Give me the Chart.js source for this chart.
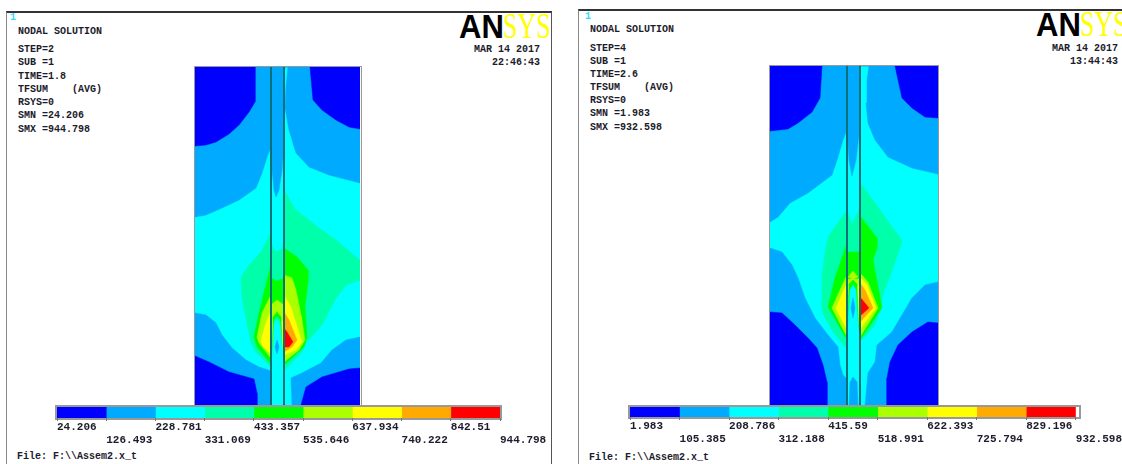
<!DOCTYPE html>
<html>
<head>
<meta charset="utf-8">
<script src="https://cdn.jsdelivr.net/npm/chart.js@4"></script>
<style>
  html, body { margin: 0; padding: 0; background: #fff; }
  body { width: 1122px; height: 464px; overflow: hidden; position: relative; }
  #page { position: absolute; left: 0; top: 0; width: 1122px; height: 464px; overflow: hidden; background: #fff; filter: blur(0.7px); }
  canvas, .frame, .note, .logo { position: absolute; }
  .frame { box-sizing: border-box; }
  .note { font-family: "Liberation Mono", monospace; font-size: 10px; line-height: 10px; color: #1c1c2c; white-space: pre; font-weight: bold; }
  .logo { font-size: 33px; line-height: 33px; white-space: pre; }
  .logo b { font-family: "Liberation Sans", sans-serif; color: #000; display: inline-block; transform: scaleX(.94); transform-origin: left; width: 44px; }
  .logo span { font-family: "Liberation Serif", serif; font-size: 36px; color: #ffff00; display: inline-block; transform: scaleX(.72); transform-origin: left; }
</style>
</head>
<body>
<div id="page"></div>
<script>
// contour level colours, low to high
const levelColors = ["#0000ff", "#00aaff", "#00ffff", "#00ffaa", "#00ff00", "#aaff00", "#ffff00", "#ffaa00", "#ff0000"];

// ---- left plot, model units measured from the top left corner
const leftWidth = 165, leftHeight = 338;
const leftWalls = [76, 89];
const leftBack = [[0,0],[165,0],[165,338],[0,338]];
const leftBlueTL = [[0,0],[60,0],[60,35],[54,45],[44,58],[34,67],[21,75],[11,78],[0,79]];
const leftBlueTR = [[115,0],[118,33],[127,43],[141,53],[154,60],[165,62],[165,0]];
const leftBlueBL = [[0,289],[14,295],[34,305],[59,312],[62,326],[62,338],[0,338]];
const leftBlueBR = [[165,301],[154,302],[127,310],[111,320],[106,338],[165,338]];
const leftSkyTop = [[0,0],[165,0],[165,116],[134,108],[114,100],[101,86],[94,63],[90,40],[91,20],[93,0],[89,0],[89,80],[76,80],[72,90],[67,106],[61,121],[44,133],[27,141],[11,148],[0,150]];
const leftSkyBL = [[0,246],[11,248],[21,256],[27,268],[37,281],[51,293],[64,300],[76,304],[76,338],[0,338]];
const leftSkyBR = [[165,270],[151,273],[137,283],[126,296],[107,306],[96,311],[97,338],[165,338]];
const leftMint = [[89,123],[100,142],[120,158],[141,173],[161,190],[165,193],[165,213],[151,218],[141,231],[127,258],[111,276],[107,285],[90,303],[76,300],[61,285],[56,276],[51,251],[47,231],[46,210],[54,198],[66,185],[76,165]];
const leftGreen = [[89,181],[102,190],[113,203],[113,215],[110,240],[112,270],[109,280],[89,298],[75,296],[62,280],[59,270],[64,246],[75,201]];
const leftLime = [[89,208],[97,211],[101,223],[107,253],[110,273],[104,283],[89,295],[75,290],[64,276],[62,270],[67,246],[75,230]];
const leftYellow = [[89,228],[96,240],[104,266],[107,275],[101,283],[89,288],[75,286],[67,278],[66,273],[71,256],[75,246]];
const leftOrange = [[89,245],[94,253],[102,273],[97,280],[89,285]];
const leftRed = [[89,261],[92,265],[98,275],[94,280],[89,280]];
// the narrow strip between the two walls
const leftStripBase = [[76,0],[89,0],[89,338],[76,338]];
const leftStripTip = [[76,0],[89,0],[89,76],[87,103],[84,123],[81,130],[79,123],[77,103],[76,80]];
const leftStripMint = [[76,176],[79,183],[82,185],[86,183],[89,176],[89,298],[76,298]];
const leftStripGreen = [[76,211],[82,214],[89,211],[89,296],[76,296]];
const leftStripLime = [[76,238],[82,233],[89,238],[89,293],[76,293]];
const leftStripYellow = [[76,254],[89,254],[89,288],[76,288]];
const leftCoreGreen = [[77,300],[78,250],[82,245],[86,250],[88,300]];
const leftCoreMint = [[78,300],[79,253],[82,250],[85,253],[87,300]];
const leftCoreCyan = [[76,300],[78,280],[79,258],[82,252],[85,258],[87,280],[89,300],[89,338],[76,338]];
const leftCoreSpot = [[82,273],[84,280],[82,287],[80,280]];

// ---- right plot
const rightWidth = 168, rightHeight = 340;
const rightWalls = [77, 90];
const rightBack = [[0,0],[168,0],[168,340],[0,340]];
const rightBlueTL = [[0,0],[52,0],[50,32],[42,46],[28,57],[18,63],[0,65]];
const rightBlueTR = [[125,0],[132,32],[142,42],[155,51],[168,52],[168,0]];
const rightBlueBL = [[0,246],[12,247],[25,259],[38,272],[47,282],[53,299],[57,316],[57,340],[0,340]];
const rightBlueBR = [[168,257],[158,256],[142,266],[128,279],[120,296],[117,312],[117,340],[168,340]];
const rightSkyTop = [[0,0],[168,0],[168,108],[142,102],[118,91],[105,74],[98,57],[96,37],[97,14],[99,0],[90,0],[90,70],[77,64],[73,74],[67,94],[62,109],[38,127],[20,137],[8,151],[0,156]];
const rightSkyBL = [[0,182],[12,186],[22,199],[28,212],[35,232],[45,252],[58,269],[68,281],[70,299],[73,309],[77,313],[77,340],[0,340]];
const rightSkyBR = [[168,216],[155,219],[142,232],[132,249],[122,266],[107,279],[105,296],[98,307],[95,340],[168,340]];
const rightMint = [[91,118],[105,137],[122,161],[132,174],[131,179],[123,202],[113,229],[110,242],[105,259],[90,276],[83,286],[78,284],[63,266],[52,246],[52,209],[55,186],[58,171],[77,144]];
const rightGreen = [[91,151],[107,172],[107,182],[103,194],[112,242],[90,274],[76,272],[58,241],[65,212],[77,177]];
const rightLime = [[90,207],[98,216],[108,242],[90,271],[76,269],[62,242],[70,224],[76,211]];
const rightYellow = [[90,211],[97,219],[106,242],[90,263],[76,262],[66,242],[76,219]];
const rightOrange = [[90,217],[95,224],[103,242],[90,256]];
const rightRed = [[90,231],[99,242],[90,250]];
const rightStripBase = [[77,0],[90,0],[90,340],[77,340]];
const rightStripTip = [[77,0],[90,0],[90,60],[86,94],[82,110],[79,94],[77,64]];
const rightStripFoot = [[79,340],[80,316],[83,311],[87,316],[88,340]];
const rightStripMint = [[77,144],[82,159],[90,141],[90,276],[83,286],[77,284]];
const rightStripGreen = [[77,186],[90,186],[90,272],[77,270]];
const rightStripLime = [[77,213],[90,213],[90,265],[77,265]];
const rightStripDome = [[78,211],[83,205],[88,211],[83,213]];
const rightStripYellow = [[77,220],[90,220],[90,258],[77,258]];
const rightCoreGreen = [[79,218],[83,214],[87,218],[89,270],[77,270]];
const rightCoreCyan = [[80,224],[83,219],[86,224],[88,260],[90,272],[90,300],[77,300],[77,272],[78,260]];
const rightCoreSpot = [[83,232],[85,242],[83,252],[81,242]];

// ---- colour bars
const leftLevels = [24.206, 126.493, 228.781, 331.069, 433.357, 535.646, 637.934, 740.222, 842.51, 944.798];
const rightLevels = [1.983, 105.385, 208.786, 312.188, 415.59, 518.991, 622.393, 725.794, 829.196, 932.598];

// ---- text
const leftNotes = ["NODAL SOLUTION", "STEP=2", "SUB =1", "TIME=1.8", "TFSUM    (AVG)", "RSYS=0", "SMN =24.206", "SMX =944.798"];
const rightNotes = ["NODAL SOLUTION", "STEP=4", "SUB =1", "TIME=2.6", "TFSUM    (AVG)", "RSYS=0", "SMN =1.983", "SMX =932.598"];
const leftStamp = ["MAR 14 2017", "22:46:43"];
const rightStamp = ["MAR 14 2017", "13:44:43"];
const fileName = "File: F:\\\\Assem2.x_t";

const page = document.getElementById("page");

function box(left, top, width, height, css) {
    const d = document.createElement("div");
    d.className = "frame";
    d.style.cssText = `left:${left}px;top:${top}px;width:${width}px;height:${height}px;${css}`;
    page.appendChild(d);
}

function note(text, left, top, css) {
    const d = document.createElement("div");
    d.className = "note";
    d.textContent = text;
    d.style.cssText = `left:${left}px;top:${top}px;${css || ""}`;
    page.appendChild(d);
}

function logo(left, top) {
    const d = document.createElement("div");
    d.className = "logo";
    d.style.cssText = `left:${left}px;top:${top}px;`;
    d.innerHTML = "<b>AN</b><span>SYS</span>";
    page.appendChild(d);
}

function addCanvas(left, top, width, height) {
    const c = document.createElement("canvas");
    c.width = width;
    c.height = height;
    c.style.cssText = `left:${left}px;top:${top}px;width:${width}px;height:${height}px;`;
    page.appendChild(c);
    return c;
}

function polygon(points, level) {
    const closed = [...points, points[0]];
    return {
        data: closed.map(p => ({ x: p[0], y: p[1] })),
        showLine: true,
        fill: "shape",
        tension: 0,
        pointRadius: 0,
        borderWidth: 0.5,
        borderColor: levelColors[level],
        backgroundColor: levelColors[level]
    };
}

function wall(x, height) {
    return {
        data: [{ x: x, y: 0 }, { x: x, y: height }],
        showLine: true,
        tension: 0,
        pointRadius: 0,
        borderWidth: 2,
        borderColor: "#0f6f78",
        fill: false
    };
}

function drawPlot(left, top, width, height, shapes, walls) {
    const sets = shapes.map(s => polygon(s[0], s[1]));
    walls.forEach(x => sets.push(wall(x, height)));
    // chart.js paints the first dataset last
    sets.reverse();
    new Chart(addCanvas(left, top, width, height), {
        type: "scatter",
        data: { datasets: sets },
        options: {
            responsive: false,
            animation: false,
            events: [],
            plugins: { legend: { display: false }, tooltip: { enabled: false } },
            layout: { padding: 0, autoPadding: false },
            scales: {
                x: { type: "linear", display: false, min: 0, max: width },
                y: { type: "linear", display: false, min: 0, max: height, reverse: true }
            }
        }
    });
}

function drawBar(left, top, width, height, barLeft, barWidth, barHeight, levels) {
    const sets = levelColors.map((c, i) => ({
        data: [[levels[i], levels[i + 1]]],
        backgroundColor: c,
        borderWidth: 0,
        barPercentage: 1,
        categoryPercentage: 1
    }));
    new Chart(addCanvas(left, top, width, height), {
        type: "bar",
        data: { labels: [""], datasets: sets },
        options: {
            indexAxis: "y",
            responsive: false,
            animation: false,
            events: [],
            plugins: { legend: { display: false }, tooltip: { enabled: false } },
            layout: { padding: { left: barLeft, right: width - barLeft - barWidth, top: 0, bottom: 0 }, autoPadding: false },
            scales: {
                x: {
                    type: "linear",
                    position: "bottom",
                    min: levels[0],
                    max: levels[levels.length - 1],
                    afterBuildTicks: axis => { axis.ticks = levels.map(v => ({ value: v })); },
                    afterFit: axis => { axis.height = height - barHeight; },
                    border: { display: false },
                    grid: { drawOnChartArea: false, drawTicks: true, tickLength: 3, color: "#777", offset: false },
                    ticks: {
                        autoSkip: false,
                        maxRotation: 0,
                        minRotation: 0,
                        align: "start",
                        padding: 0,
                        color: "#1c1c2c",
                        font: { family: "Liberation Mono", size: 11, weight: "bold", lineHeight: 1.18 },
                        callback: (value, i) => i % 2 ? ["", String(levels[i])] : [String(levels[i]), ""]
                    }
                },
                y: { display: false, stacked: true }
            }
        }
    });
}

// panels
box(6, 11, 546, 480, "border:1.5px solid #555;border-top:2px solid #333;border-left-color:#888;");
box(578, 9, 600, 480, "border:1.5px solid #555;border-top:2px solid #333;border-left-color:#888;");

// left panel text
const noteRowsLeft = [27, 45, 58, 72, 85, 98, 111, 125];
const noteRowsRight = [25, 44, 57, 70, 83, 96, 109, 123];
note("1", 10, 13, "color:#35d9ff;");
leftNotes.forEach((t, i) => note(t, 18, noteRowsLeft[i]));
note(leftStamp[0], 474, 45);
note(leftStamp[1], 492, 58);
note(fileName, 17, 452);
logo(459, 10);

note("1", 585, 12, "color:#35d9ff;");
rightNotes.forEach((t, i) => note(t, 590, noteRowsRight[i]));
note(rightStamp[0], 1052, 44);
note(rightStamp[1], 1070, 57);
note(fileName, 589, 453);
logo(1036, 8);

// plots
box(194, 66, 168, 341, "border:1px solid #999;");
box(769, 65, 170, 342, "border:1px solid #999;");
drawPlot(195, 67, leftWidth, leftHeight, [
    [leftBack, 2],
    [leftSkyTop, 1], [leftSkyBL, 1], [leftSkyBR, 1],
    [leftBlueTL, 0], [leftBlueTR, 0], [leftBlueBL, 0], [leftBlueBR, 0],
    [leftMint, 3], [leftGreen, 4], [leftLime, 5], [leftYellow, 6], [leftOrange, 7], [leftRed, 8],
    [leftStripBase, 2], [leftStripTip, 1], [leftStripMint, 3], [leftStripGreen, 4], [leftStripLime, 5], [leftStripYellow, 6],
    [leftCoreGreen, 4], [leftCoreMint, 3], [leftCoreCyan, 2], [leftCoreSpot, 1]
], leftWalls);
drawPlot(770, 66, rightWidth, rightHeight, [
    [rightBack, 2],
    [rightSkyTop, 1], [rightSkyBL, 1], [rightSkyBR, 1],
    [rightBlueTL, 0], [rightBlueTR, 0], [rightBlueBL, 0], [rightBlueBR, 0],
    [rightMint, 3], [rightGreen, 4], [rightLime, 5], [rightYellow, 6], [rightOrange, 7], [rightRed, 8],
    [rightStripBase, 2], [rightStripTip, 1], [rightStripFoot, 1], [rightStripMint, 3], [rightStripGreen, 4], [rightStripLime, 5], [rightStripDome, 5], [rightStripYellow, 6],
    [rightCoreGreen, 4], [rightCoreCyan, 2], [rightCoreSpot, 1]
], rightWalls);

// colour bars
box(55, 405, 447, 15, "border:2px solid #999;");
box(628, 405, 453, 14, "border:2px solid #999;");
drawBar(50, 407, 512, 38, 7, 443, 11, leftLevels);
drawBar(622, 407, 500, 38, 8, 449, 10, rightLevels);
</script>
</body>
</html>
